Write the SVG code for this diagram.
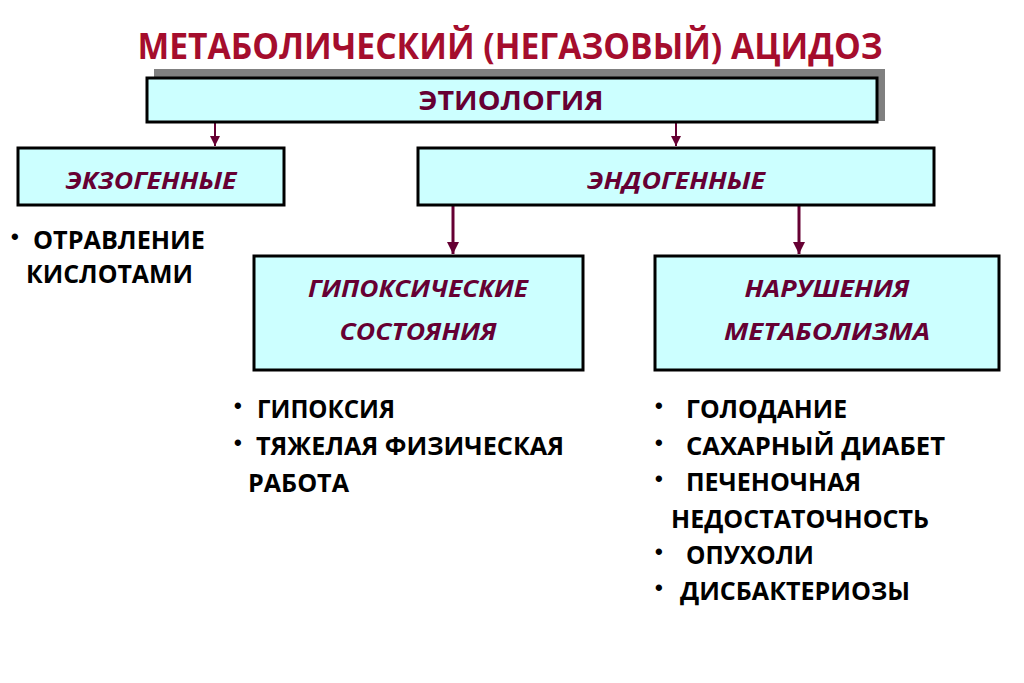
<svg xmlns="http://www.w3.org/2000/svg" width="1024" height="683" viewBox="0 0 1024 683">
<defs>
<style>
.box{fill:#CCFFFF;stroke:#000;stroke-width:3}
.lbl{font-family:"Open Sans","Noto Sans",sans-serif;font-weight:bold;font-style:italic;fill:#660033;font-size:24px;text-anchor:middle}
.txt{font-family:"Open Sans","Noto Sans",sans-serif;font-weight:bold;fill:#000;font-size:24.5px}
.bul{font-family:"Liberation Sans",sans-serif;font-weight:bold;fill:#000;font-size:22px}
.con{stroke:#660033;stroke-width:3;fill:none}
.cons{stroke:#660033;stroke-width:2;fill:none}
</style>
<marker id="ah" viewBox="0 0 10 10" refX="10" refY="5" markerWidth="4" markerHeight="4" orient="auto" markerUnits="strokeWidth"><path d="M0,0 L10,5 L0,10 z" fill="#660033"/></marker>
<marker id="ahs" viewBox="0 0 10 10" refX="10" refY="5" markerWidth="5" markerHeight="5" orient="auto" markerUnits="strokeWidth"><path d="M0,0 L10,5 L0,10 z" fill="#660033"/></marker>
</defs>
<rect width="1024" height="683" fill="#fff"/>
<text x="510" y="59" font-family="Open Sans, Noto Sans, sans-serif" font-weight="bold" font-size="35" fill="#A50D2D" text-anchor="middle" textLength="745" lengthAdjust="spacingAndGlyphs">МЕТАБОЛИЧЕСКИЙ (НЕГАЗОВЫЙ) АЦИДОЗ</text>
<g id="connectors">
<line class="cons" x1="215" y1="123" x2="215" y2="146" marker-end="url(#ahs)"/>
<line class="cons" x1="676" y1="123" x2="676" y2="146" marker-end="url(#ahs)"/>
<line class="con" x1="453" y1="206" x2="453" y2="254" marker-end="url(#ah)"/>
<line class="con" x1="799" y1="206" x2="799" y2="254" marker-end="url(#ah)"/>
</g>
<g id="etiology">
<rect x="154" y="69" width="731" height="52" fill="#808080"/>
<rect class="box" x="147" y="78" width="730" height="44"/>
<text x="511" y="110" font-family="Open Sans, Noto Sans, sans-serif" font-weight="bold" font-size="27" fill="#660033" text-anchor="middle" textLength="185" lengthAdjust="spacingAndGlyphs">ЭТИОЛОГИЯ</text>
</g>
<g id="exo">
<rect class="box" x="18" y="148" width="266" height="57"/>
<text class="lbl" x="151" y="189" textLength="171" lengthAdjust="spacingAndGlyphs">ЭКЗОГЕННЫЕ</text>
</g>
<g id="endo">
<rect class="box" x="418" y="148" width="516" height="57"/>
<text class="lbl" x="676" y="189" textLength="178" lengthAdjust="spacingAndGlyphs">ЭНДОГЕННЫЕ</text>
</g>
<g id="hypoxic">
<rect class="box" x="254" y="256" width="329" height="114"/>
<text class="lbl" x="418" y="297" textLength="220" lengthAdjust="spacingAndGlyphs">ГИПОКСИЧЕСКИЕ</text>
<text class="lbl" x="418" y="340" textLength="157" lengthAdjust="spacingAndGlyphs">СОСТОЯНИЯ</text>
</g>
<g id="metabolic">
<rect class="box" x="655" y="256" width="344" height="114"/>
<text class="lbl" x="827" y="297" textLength="165" lengthAdjust="spacingAndGlyphs">НАРУШЕНИЯ</text>
<text class="lbl" x="827" y="340" textLength="206" lengthAdjust="spacingAndGlyphs">МЕТАБОЛИЗМА</text>
</g>
<g id="exo-list">
<text class="bul" x="11" y="244">•</text>
<text class="txt" x="33" y="249" textLength="172" lengthAdjust="spacingAndGlyphs">ОТРАВЛЕНИЕ</text>
<text class="txt" x="26" y="283" textLength="167" lengthAdjust="spacingAndGlyphs">КИСЛОТАМИ</text>
</g>
<g id="hypoxic-list">
<text class="bul" x="234" y="413">•</text>
<text class="txt" x="257" y="418" textLength="138" lengthAdjust="spacingAndGlyphs">ГИПОКСИЯ</text>
<text class="bul" x="234" y="450">•</text>
<text class="txt" x="256" y="455" textLength="308" lengthAdjust="spacingAndGlyphs">ТЯЖЕЛАЯ ФИЗИЧЕСКАЯ</text>
<text class="txt" x="248" y="492" textLength="101" lengthAdjust="spacingAndGlyphs">РАБОТА</text>
</g>
<g id="metabolic-list">
<text class="bul" x="655" y="413">•</text>
<text class="txt" x="686" y="418" textLength="161" lengthAdjust="spacingAndGlyphs">ГОЛОДАНИЕ</text>
<text class="bul" x="655" y="450">•</text>
<text class="txt" x="686" y="455" textLength="259" lengthAdjust="spacingAndGlyphs">САХАРНЫЙ ДИАБЕТ</text>
<text class="bul" x="655" y="486">•</text>
<text class="txt" x="686" y="491" textLength="175" lengthAdjust="spacingAndGlyphs">ПЕЧЕНОЧНАЯ</text>
<text class="txt" x="671" y="528" textLength="258" lengthAdjust="spacingAndGlyphs">НЕДОСТАТОЧНОСТЬ</text>
<text class="bul" x="655" y="559">•</text>
<text class="txt" x="686" y="564" textLength="128" lengthAdjust="spacingAndGlyphs">ОПУХОЛИ</text>
<text class="bul" x="655" y="595">•</text>
<text class="txt" x="680" y="600" textLength="230" lengthAdjust="spacingAndGlyphs">ДИСБАКТЕРИОЗЫ</text>
</g>
</svg>
